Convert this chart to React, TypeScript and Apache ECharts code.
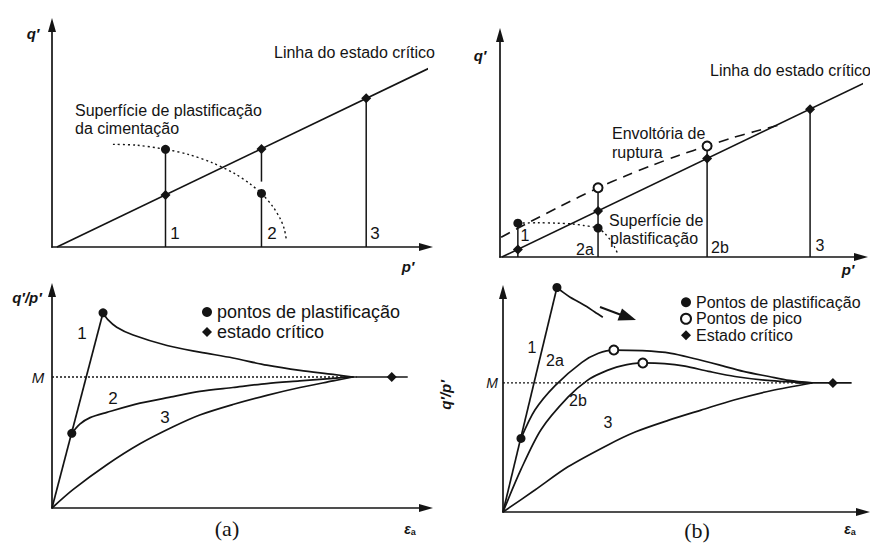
import React, { useEffect, useRef } from "react";
import * as echarts from "echarts";

const INK = "#141414";
const SANS = "'Liberation Sans', Arial, Helvetica, sans-serif";
const SERIF = "'Liberation Serif', 'Times New Roman', serif";

// ---------- (a) upper panel: q' against p' ----------
const aTopCsl = [[1.3, 0], [100.8, 47.9]];
const aTopCementYield = [
  [16, 27], [22, 26.8], [29.8, 25.7], [36, 24.3], [42, 22.2], [48, 19.3],
  [52, 16.6], [55, 14.1], [58, 10.6], [60, 7.3], [61, 4.7], [61.6, 1.5],
];
// [p', q' start, q' end] for each drained stress path
const aTopStressPaths = [[29.8, 0, 25.7], [55, 0, 14.1], [55, 17.2, 25.8], [82.5, 0, 39.1]];
const aTopYieldPts = [[29.8, 25.7], [55, 14.1]];
const aTopCriticalPts = [[29.8, 13.7], [55, 25.8], [82.5, 39.1]];

// ---------- (a) lower panel: q'/p' against axial strain ----------
const aBotElastic = [[0, 0], [13.4, 1.49]];
const aBotPath1 = [
  [13.4, 1.49], [14.6, 1.44], [17, 1.38], [21.3, 1.32], [30.2, 1.24], [38.8, 1.19],
  [47.5, 1.145], [56.4, 1.09], [65.1, 1.05], [73.8, 1.02], [79, 1.0],
];
const aBotPath2 = [
  [5.2, 0.57], [7.3, 0.64], [10, 0.69], [14.4, 0.73], [23.1, 0.8], [31.8, 0.85],
  [38.8, 0.89], [47.5, 0.92], [56.4, 0.95], [65, 0.97], [73.8, 0.99], [79, 1.0],
];
const aBotPath3 = [
  [0, 0], [5.5, 0.14], [14.4, 0.33], [23.1, 0.49], [31.8, 0.62], [38.8, 0.71],
  [47.5, 0.79], [56.4, 0.86], [65.1, 0.92], [73.8, 0.97], [79, 1.0],
];
const aBotCritical = [[76, 1.0], [93.4, 1.0]];
const aBotM = [[0, 1.0], [80, 1.0]];
const aBotYieldPts = [[13.4, 1.49], [5.2, 0.57]];
const aBotCriticalPts = [[89.2, 1.0]];

// ---------- (b) upper panel: q' against p' ----------
const bTopCsl = [[0.5, 0], [97.4, 46.5]];
const bTopEnvelope = [
  [0.3, 5.2], [8, 9.3], [16, 13.4], [25.8, 18.2], [33, 21.3], [40, 24.1],
  [47, 26.7], [54.5, 29.2], [61, 31.3], [67, 33], [73, 34.6],
];
const bTopYieldSurface = [
  [4.7, 8.9], [10, 9.0], [15, 8.9], [19, 8.7], [22, 8.3], [24.5, 7.9],
  [25.8, 7.6], [27.5, 6.3], [29, 4.5], [30.2, 2.5], [31, 0.8],
];
const bTopStressPaths = [[4.7, 0, 8.9], [25.8, 0, 18.2], [54.5, 0, 29.2], [81.6, 0, 38.9]];
const bTopYieldPts = [[4.7, 8.9], [25.8, 7.6]];
const bTopPeakPts = [[25.8, 18.2], [54.5, 29.2]];
const bTopCriticalPts = [[4.7, 2.0], [25.8, 12.1], [54.5, 25.9], [81.6, 38.9]];

// ---------- (b) lower panel: q'/p' against axial strain ----------
const bBotElastic = [[0, 0], [14.7, 1.74]];
const bBotPath1 = [[14.7, 1.74], [16.5, 1.7], [18.3, 1.665], [20.5, 1.63], [22.9, 1.59], [25, 1.55], [27.2, 1.51]];
const bBotPath2a = [
  [4.9, 0.57], [8.7, 0.79], [14.2, 0.98], [21.5, 1.16], [26, 1.23], [30.2, 1.255],
  [38, 1.25], [45.8, 1.23], [52, 1.19], [58.9, 1.14], [65.5, 1.09], [72.5, 1.05], [78, 1.02], [84.2, 1.0],
];
const bBotPath2b = [
  [0, 0], [4.9, 0.33], [10.4, 0.64], [17.7, 0.89], [23, 1.02], [27, 1.08], [32, 1.13],
  [38.1, 1.155], [44, 1.15], [49.6, 1.13], [56, 1.09], [63.2, 1.05], [72, 1.02], [84.2, 1.0],
];
const bBotPath3 = [
  [0, 0], [8.7, 0.17], [17.7, 0.35], [28.6, 0.52], [36, 0.62], [45, 0.71],
  [54, 0.79], [63.2, 0.87], [73, 0.94], [84.2, 1.0],
];
const bBotCritical = [[80, 1.0], [95, 1.0]];
const bBotM = [[0, 1.0], [85, 1.0]];
const bBotYieldPts = [[14.7, 1.74], [4.9, 0.57]];
const bBotPeakPts = [[30.2, 1.255], [38.1, 1.155]];
const bBotCriticalPts = [[89.9, 1.0]];

const LEGEND_A = ["pontos de plastificação", "estado crítico"];
const LEGEND_B = ["Pontos de plastificação", "Pontos de pico", "Estado crítico"];

function axis(gridIndex: number, max: number) {
  return {
    type: "value",
    gridIndex,
    min: 0,
    max,
    axisLine: {
      show: true,
      onZero: false,
      symbol: ["none", "triangle"],
      symbolSize: [8, 14],
      lineStyle: { color: INK, width: 1.7 },
    },
    axisTick: { show: false },
    axisLabel: { show: false },
    splitLine: { show: false },
  };
}

function curve(idx: number, data: number[][], opts: any = {}) {
  return {
    type: "line",
    xAxisIndex: idx,
    yAxisIndex: idx,
    data,
    showSymbol: false,
    symbol: "none",
    smooth: opts.smooth ?? false,
    clip: false,
    silent: true,
    z: 2,
    lineStyle: { color: INK, width: opts.width ?? 1.7, type: opts.type ?? "solid", opacity: 1 },
  };
}

function verticals(idx: number, paths: number[][]) {
  return paths.map(([x, y0, y1]) => curve(idx, [[x, y0], [x, y1]], { width: 1.5 }));
}

function markers(idx: number, data: number[][], kind: "yield" | "peak" | "critical", name?: string) {
  const symbol = kind === "yield" ? "circle" : kind === "peak" ? "emptyCircle" : "diamond";
  return {
    type: "scatter",
    name,
    xAxisIndex: idx,
    yAxisIndex: idx,
    data,
    symbol,
    symbolSize: kind === "critical" ? 10 : 9,
    clip: false,
    silent: true,
    z: 5,
    itemStyle:
      kind === "peak"
        ? { color: INK, borderColor: INK, borderWidth: 1.5, opacity: 1 }
        : { color: INK, borderColor: INK, borderWidth: 0, opacity: 1 },
  };
}

function txt(x: number, y: number, text: string, style: any = {}) {
  return {
    type: "text",
    x,
    y,
    silent: true,
    style: {
      text,
      fill: INK,
      font: `${style.italic ? "italic " : ""}${style.bold ? "bold " : ""}${style.size ?? 16}px ${style.family ?? SANS}`,
      align: style.align ?? "left",
      verticalAlign: "middle",
    },
    rotation: style.rotation ?? 0,
  };
}

function strainLabel(x: number, y: number) {
  return {
    type: "text",
    x,
    y,
    silent: true,
    style: {
      text: "{e|ε}{s|a}",
      align: "center",
      verticalAlign: "middle",
      rich: {
        e: { font: `italic bold 14px ${SANS}`, fill: INK },
        s: { font: `bold 9px ${SANS}`, fill: INK, padding: [6, 0, 0, 0] },
      },
    },
  };
}

export default function App() {
  const ref = useRef<HTMLDivElement>(null);

  useEffect(() => {
    if (!ref.current) return;
    const chart = echarts.init(ref.current, undefined, { renderer: "svg" });

    const option: any = {
      animation: false,
      backgroundColor: "#ffffff",
      grid: [
        { left: 52, top: 25, width: 374, height: 222 },
        { left: 52, top: 290, width: 374, height: 218 },
        { left: 500, top: 35, width: 361, height: 222 },
        { left: 503, top: 292, width: 360, height: 220 },
      ],
      xAxis: [axis(0, 98.2), axis(1, 98.2), axis(2, 95), axis(3, 98.1)],
      yAxis: [axis(0, 58.4), axis(1, 1.664), axis(2, 58.4), axis(3, 1.705)],
      legend: [
        {
          data: LEGEND_A.map((name) => ({ name })),
          orient: "vertical",
          left: 202,
          top: 303,
          padding: 0,
          itemWidth: 10,
          itemHeight: 10,
          itemGap: 2,
          selectedMode: false,
          textStyle: { fontFamily: SANS, fontSize: 18, color: INK, lineHeight: 18 },
        },
        {
          data: LEGEND_B.map((name) => ({ name })),
          orient: "vertical",
          left: 680,
          top: 294,
          padding: 0,
          itemWidth: 10,
          itemHeight: 10,
          itemGap: 0,
          selectedMode: false,
          textStyle: { fontFamily: SANS, fontSize: 16, color: INK, lineHeight: 16.5 },
        },
      ],
      series: [
        // (a) upper
        curve(0, aTopCsl),
        curve(0, aTopCementYield, { type: [2, 3], width: 1.4, smooth: 0.3 }),
        ...verticals(0, aTopStressPaths),
        markers(0, aTopYieldPts, "yield"),
        markers(0, aTopCriticalPts, "critical"),
        // (a) lower
        curve(1, aBotM, { type: [2, 2], width: 1.3 }),
        curve(1, aBotCritical),
        curve(1, aBotElastic),
        curve(1, aBotPath1, { smooth: 0.3 }),
        curve(1, aBotPath2, { smooth: 0.3 }),
        curve(1, aBotPath3, { smooth: 0.3 }),
        markers(1, aBotYieldPts, "yield", LEGEND_A[0]),
        markers(1, aBotCriticalPts, "critical", LEGEND_A[1]),
        // (b) upper
        curve(2, bTopCsl),
        curve(2, bTopEnvelope, { type: [10, 7], width: 1.6, smooth: 0.3 }),
        curve(2, bTopYieldSurface, { type: [2, 3], width: 1.4, smooth: 0.3 }),
        ...verticals(2, bTopStressPaths),
        markers(2, bTopYieldPts, "yield"),
        markers(2, bTopPeakPts, "peak"),
        markers(2, bTopCriticalPts, "critical"),
        // (b) lower
        curve(3, bBotM, { type: [2, 2], width: 1.3 }),
        curve(3, bBotCritical),
        curve(3, bBotElastic),
        curve(3, bBotPath1, { smooth: 0.3 }),
        curve(3, bBotPath2a, { smooth: 0.3 }),
        curve(3, bBotPath2b, { smooth: 0.3 }),
        curve(3, bBotPath3, { smooth: 0.3 }),
        markers(3, bBotYieldPts, "yield", LEGEND_B[0]),
        markers(3, bBotPeakPts, "peak", LEGEND_B[1]),
        markers(3, bBotCriticalPts, "critical", LEGEND_B[2]),
      ],
      graphic: [
        // (a) upper
        txt(33, 33, "q′", { italic: true, bold: true, size: 15, align: "center" }),
        txt(408, 266, "p′", { italic: true, bold: true, size: 15, align: "center" }),
        txt(274, 52, "Linha do estado crítico"),
        txt(75, 110, "Superfície de plastificação"),
        txt(75, 128, "da cimentação"),
        txt(175, 233, "1", { size: 17, align: "center" }),
        txt(272, 233, "2", { size: 17, align: "center" }),
        txt(375, 233, "3", { size: 17, align: "center" }),
        // (a) lower
        txt(27, 297, "q′/p′", { italic: true, bold: true, size: 15, align: "center" }),
        txt(38, 377, "M", { italic: true, size: 15, align: "center" }),
        txt(82, 333, "1", { size: 17, align: "center" }),
        txt(113, 398, "2", { size: 17, align: "center" }),
        txt(165, 417, "3", { size: 17, align: "center" }),
        txt(227, 528, "(a)", { size: 22, family: SERIF, align: "center" }),
        strainLabel(410, 529),
        // (b) upper
        txt(480, 55, "q′", { italic: true, bold: true, size: 15, align: "center" }),
        txt(848, 269, "p′", { italic: true, bold: true, size: 15, align: "center" }),
        txt(710, 70, "Linha do estado crítico"),
        txt(612, 133, "Envoltória de"),
        txt(612, 152, "ruptura"),
        txt(609, 220, "Superfície de"),
        txt(610, 238, "plastificação"),
        txt(525, 235, "1", { size: 16, align: "center" }),
        txt(585, 249, "2a", { size: 16, align: "center" }),
        txt(720, 247, "2b", { size: 16, align: "center" }),
        txt(820, 245, "3", { size: 16, align: "center" }),
        // (b) lower
        txt(445, 395, "q′/p′", { italic: true, bold: true, size: 15, align: "center", rotation: Math.PI / 2 }),
        txt(492, 383, "M", { italic: true, size: 14, align: "center" }),
        txt(532, 347, "1", { size: 16, align: "center" }),
        txt(555, 360, "2a", { size: 16, align: "center" }),
        txt(578, 400, "2b", { size: 16, align: "center" }),
        txt(608, 422, "3", { size: 16, align: "center" }),
        txt(697, 530, "(b)", { size: 22, family: SERIF, align: "center" }),
        strainLabel(850, 529),
        // load-direction arrow after the first yield point
        {
          type: "line",
          silent: true,
          shape: { x1: 600, y1: 307, x2: 624, y2: 316 },
          style: { stroke: INK, lineWidth: 2 },
        },
        {
          type: "polygon",
          silent: true,
          shape: { points: [[636, 320], [622, 308.5], [617.5, 320.5]] },
          style: { fill: INK },
        },
      ],
    };

    chart.setOption(option);
    return () => chart.dispose();
  }, []);

  return (
    <div
      ref={ref}
      style={{ position: "fixed", left: 0, top: 0, width: 870, height: 548, background: "#fff" }}
    />
  );
}
